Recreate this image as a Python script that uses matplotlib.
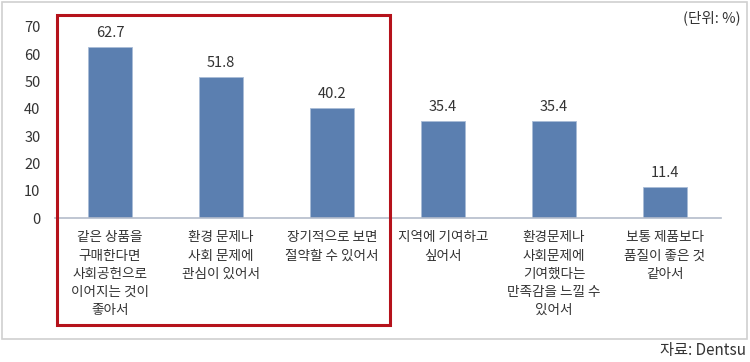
import matplotlib
matplotlib.use("Agg")
import matplotlib.pyplot as plt
from matplotlib.patches import Rectangle

plt.rcParams['font.family'] = ['Noto Sans CJK KR', 'DejaVu Sans']

categories = [
    "같은 상품을\n구매한다면\n사회공헌으로\n이어지는 것이\n좋아서",
    "환경 문제나\n사회 문제에\n관심이 있어서",
    "장기적으로 보면\n절약할 수 있어서",
    "지역에 기여하고\n싶어서",
    "환경문제나\n사회문제에\n기여했다는\n만족감을 느낄 수\n있어서",
    "보통 제품보다\n품질이 좋은 것\n같아서",
]
values = [62.7, 51.8, 40.2, 35.4, 35.4, 11.4]
yticks = [0, 10, 20, 30, 40, 50, 60, 70]

W, H = 750, 362
fig = plt.figure(figsize=(W / 100, H / 100), dpi=100)
ax = fig.add_axes([54.5 / W, (H - 218) / H, 666 / W, 191 / H])

TEXT = '#333333'
x = range(len(values))
bars = ax.bar(x, values, width=0.4, color='#5b7fb0', edgecolor='#a9bcd6', linewidth=0.6, zorder=2)
ax.bar_label(bars, labels=[f'{v:.1f}' for v in values], padding=5, color=TEXT, fontsize=10.5)

ax.set_xlim(-0.5, 5.5)
ax.set_ylim(0, 70)
ax.set_yticks(yticks)
ax.set_xticks(list(x), categories)
ax.tick_params(axis='y', length=0, pad=10, labelsize=10.5, labelcolor=TEXT)
ax.tick_params(axis='x', length=0, pad=9, labelsize=9.8, labelcolor=TEXT)
for lbl in ax.get_xticklabels():
    lbl.set_linespacing(1.38)
    lbl.set_verticalalignment('top')

for s in ['top', 'right', 'left']:
    ax.spines[s].set_visible(False)
ax.spines['bottom'].set_color('#b4bccb')
ax.spines['bottom'].set_linewidth(1.2)

# outer frame
fig.patches.append(Rectangle((2 / W, (H - 339) / H), 745 / W, 337 / H,
                             transform=fig.transFigure, fill=False,
                             edgecolor='#d0d0d0', linewidth=1.2))
# red highlight box
fig.patches.append(Rectangle((57 / W, (H - 325) / H), 333 / W, 310 / H,
                             transform=fig.transFigure, fill=False,
                             edgecolor='#b5121b', linewidth=2.2, zorder=5))

fig.text(741 / W, 1 - 18 / H, "(단위: %)", ha='right', va='center', fontsize=10.5, color=TEXT)
fig.text(746 / W, 1 - 351 / H, "자료: Dentsu", ha='right', va='center', fontsize=11, color=TEXT)

fig.savefig('out.png', dpi=100)
